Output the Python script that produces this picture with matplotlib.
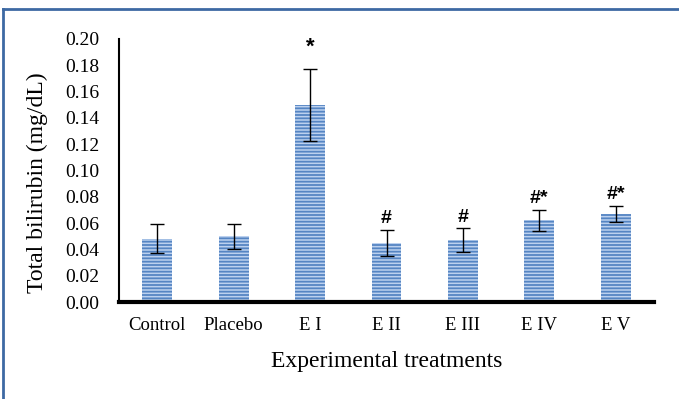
import matplotlib
matplotlib.use("Agg")
import matplotlib.pyplot as plt
from matplotlib.lines import Line2D

categories = ["Control", "Placebo", "E I", "E II", "E III", "E IV", "E V"]
means = [0.048, 0.050, 0.150, 0.045, 0.047, 0.062, 0.067]
errors = [0.011, 0.0095, 0.0275, 0.010, 0.009, 0.0083, 0.006]
marks = ["", "", "*", "#", "#", "#*", "#*"]
yticks = [0.00, 0.02, 0.04, 0.06, 0.08, 0.10, 0.12, 0.14, 0.16, 0.18, 0.20]

plt.rcParams['hatch.linewidth'] = 1.3

fig = plt.figure(figsize=(6.79, 3.99), dpi=100)
ax = fig.add_axes([0.1753, 0.2431, 0.9632 - 0.1753, 0.9023 - 0.2431])

x = list(range(len(categories)))
ax.bar(x, means, width=0.39, color='#bcd1ef', edgecolor='none', linewidth=0)
ax.bar(x, means, width=0.39, facecolor='none', edgecolor='#5585c3', hatch='-----', linewidth=0)
ax.errorbar(x, means, yerr=errors, fmt='none', ecolor='black', elinewidth=1.0, capsize=5, capthick=1.0)

for xi, m, e, t in zip(x, means, errors, marks):
    if t:
        big = (t == "*")
        ax.annotate(t, (xi, m + e), xytext=(0, 8 if big else 2), textcoords='offset points',
                    ha='center', va='bottom', fontsize=16 if big else 14, fontweight='bold',
                    family='Liberation Sans')

ax.set_xlim(-0.5, 6.5)
ax.set_ylim(0, 0.2)
ax.set_yticks(yticks)
ax.set_yticklabels([f"{v:.2f}" for v in yticks], family='Liberation Serif', fontsize=14)
ax.set_xticks(x)
ax.set_xticklabels(categories, family='Liberation Serif', fontsize=13.5)
ax.tick_params(axis='both', length=0)
ax.tick_params(axis='y', pad=14)
ax.tick_params(axis='x', pad=11)
for s in ['top', 'right']:
    ax.spines[s].set_visible(False)
ax.spines['left'].set_linewidth(1.5)
ax.spines['bottom'].set_linewidth(3)
ax.set_ylabel("Total bilirubin (mg/dL)", family='Liberation Serif', fontsize=17)
ax.yaxis.set_label_coords(-0.132, 0.455)
ax.set_xlabel("Experimental treatments", family='Liberation Serif', fontsize=17, labelpad=12)

fig.add_artist(Line2D([2.5/679, 1], [1 - 9/399, 1 - 9/399], transform=fig.transFigure, color='#3d69a3', lw=2))
fig.add_artist(Line2D([2.5/679, 2.5/679], [0, 1 - 9/399], transform=fig.transFigure, color='#3d69a3', lw=2))

fig.savefig("out.png", dpi=100)
